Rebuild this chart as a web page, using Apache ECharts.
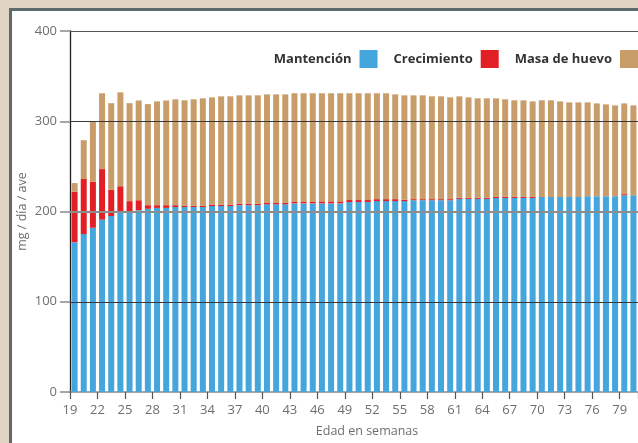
<!DOCTYPE html>
<html>
<head>
<meta charset="utf-8">
<script src="https://cdn.jsdelivr.net/npm/echarts@6/dist/echarts.min.js"></script>
<style>
  html, body { margin: 0; padding: 0; width: 638px; height: 443px; overflow: hidden; background: #e0d3c4; }
  #frame { position: absolute; left: 9px; top: 8px; width: 700px; height: 500px; border: 3px solid #5e6a6d; background: #ffffff; }
  #chart { position: absolute; left: 0; top: 0; width: 638px; height: 443px; }
</style>
</head>
<body>
<div id="frame"></div>
<div id="chart"></div>
<script>
// Semana (edad en semanas) 19..80
var weeks = [19,20,21,22,23,24,25,26,27,28,29,30,31,32,33,34,35,36,37,38,39,40,41,42,43,44,45,46,47,48,49,50,51,52,53,54,55,56,57,58,59,60,61,62,63,64,65,66,67,68,69,70,71,72,73,74,75,76,77,78,79,80];

var mantencion = [166,175,182,191,195,199,200.5,201.5,203,204,204,205,205,205,205,206,206,206,207,207,207,208,208,208,209,209,209,209,209,209,210.5,210.5,210.5,211.5,211.5,211.5,211.5,212.5,212.5,212.5,212.5,212.5,214,214,214,214,215,215,215,215,215,216,216,216,216,216,217,217,217,217,218,218];

var crecimiento = [56,61,51,56,29,29,11,11,4,3,3,2,1.5,1.5,1.5,1.5,1.5,1.5,1.5,1.5,1.5,1.5,1.5,1.5,1.5,1.5,1.5,2.2,2.2,2.2,2.2,2.2,2.2,2.2,2.2,2.2,1.5,1.2,1.2,1.2,1.2,1.2,1.2,1.2,1.2,1.2,1.2,1.2,1.2,1.2,1.2,0,0,0,0,0,0,0,0,0,1.2,0];

var masaHuevo = [9.5,43,66.5,84,96,104,108.5,110.5,112,115,116,117.3,116.7,117.8,118.9,119,120.1,120.1,120.2,120.2,120.2,120.3,120.3,120.3,120.5,120.5,120.5,119.8,119.8,119.8,118.3,118.3,118.3,117.3,117.3,116.1,115.7,115,115,113.9,113.9,112.8,112.4,111.3,110.2,110.2,109.2,108.1,107,107,105.8,107.2,107.2,106,104.9,104.9,103.9,102.8,101.7,100.6,100.6,99.6];

var yTicks = [0, 100, 200, 300, 400];
var seriesNames = ['Mantención', 'Crecimiento', 'Masa de huevo'];

var chart = echarts.init(document.getElementById('chart'), null, { renderer: 'canvas' });
var font = '"Open Sans", "Noto Sans", sans-serif';
var labelGray = '#6d6e71';

var gridLines = [
  { yAxis: 100, lineStyle: { color: '#3a3a3a', width: 1.2, type: 'solid' } },
  { yAxis: 200, lineStyle: { color: '#8c8c8c', width: 2, type: 'solid' } },
  { yAxis: 300, lineStyle: { color: '#3a3a3a', width: 1.2, type: 'solid' } },
  { yAxis: 400, lineStyle: { color: '#555555', width: 1.2, type: 'solid' } }
];

chart.setOption({
  animation: false,
  backgroundColor: 'transparent',
  textStyle: { fontFamily: font },
  legend: {
    data: seriesNames,
    right: 0,
    top: 50,
    padding: 0,
    align: 'right',
    itemWidth: 18,
    itemHeight: 18,
    itemGap: 16,
    icon: 'rect',
    selectedMode: false,
    textStyle: { fontFamily: font, fontWeight: 'bold', fontSize: 13, color: '#333333', padding: [0, 3, 0, 0] }
  },
  grid: { left: 70, top: 31, width: 569.7, bottom: 50.5, containLabel: false },
  xAxis: {
    type: 'category',
    data: weeks.map(String),
    boundaryGap: true,
    name: 'Edad en semanas',
    nameLocation: 'middle',
    nameGap: 33,
    nameMoveOverlap: false,
    nameTextStyle: { fontFamily: font, fontSize: 12.5, color: labelGray, padding: [0, 0, 0, 26] },
    axisLine: { show: true, lineStyle: { color: '#8a8a8a', width: 1.5 } },
    axisTick: { show: true, interval: 2, alignWithLabel: false, length: 7, lineStyle: { color: '#555555', width: 1.2 } },
    axisLabel: { interval: 2, fontFamily: font, fontSize: 13, color: labelGray, margin: 12, padding: [0, 9.2, 0, 0] },
    splitLine: { show: false }
  },
  yAxis: {
    type: 'value',
    min: 0,
    max: 400,
    interval: 100,
    name: 'mg / día / ave',
    nameLocation: 'middle',
    nameGap: 41,
    nameMoveOverlap: false,
    nameTextStyle: { fontFamily: font, fontSize: 12.5, color: labelGray },
    axisLine: { show: true, lineStyle: { color: '#231f20', width: 1.3 } },
    axisTick: { show: true, length: 10, lineStyle: { color: '#8a8a8a', width: 1.5 } },
    axisLabel: {
      fontFamily: font, fontSize: 13, color: labelGray, margin: 13,
      formatter: function (v) { return yTicks.indexOf(v) >= 0 ? String(v) : ''; }
    },
    splitLine: { show: false }
  },
  series: [
    {
      name: seriesNames[0], type: 'bar', stack: 'total', data: mantencion,
      barWidth: 6, itemStyle: { color: '#45a5dd' }
    },
    {
      name: seriesNames[1], type: 'bar', stack: 'total', data: crecimiento,
      barWidth: 6, itemStyle: { color: '#e31f26' }
    },
    {
      name: seriesNames[2], type: 'bar', stack: 'total', data: masaHuevo,
      barWidth: 6, itemStyle: { color: '#c99d6a' },
      markLine: {
        silent: true, symbol: 'none', label: { show: false }, z: 10,
        data: gridLines
      }
    }
  ]
});
</script>
</body>
</html>
